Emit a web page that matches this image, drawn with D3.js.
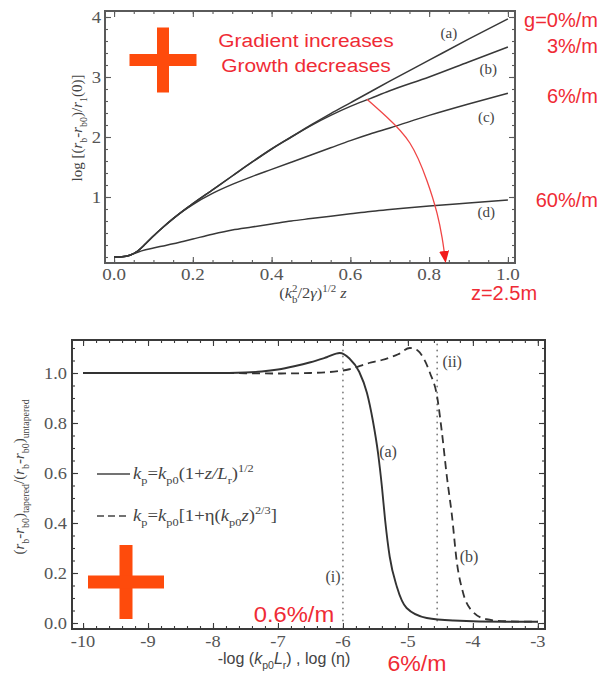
<!DOCTYPE html>
<html>
<head>
<meta charset="utf-8">
<script src="https://cdn.jsdelivr.net/npm/d3@7"></script>
<style>
  body { margin: 0; background: #fff; }
  svg { display: block; }
</style>
</head>
<body>
<svg id="fig" width="602" height="678"></svg>
<script>
// ---------- upper panel: log growth vs normalised distance ----------
const zNorm   = [0, 0.02, 0.04, 0.06, 0.08, 0.1, 0.125, 0.15, 0.175, 0.2, 0.25, 0.3, 0.35, 0.4, 0.45, 0.5, 0.55, 0.6, 0.65, 0.7, 0.8, 0.9, 1.0];
const growthA = [0, 0.005, 0.03, 0.1, 0.22, 0.35, 0.5, 0.64, 0.77, 0.89, 1.12, 1.35, 1.58, 1.8, 2.0, 2.2, 2.39, 2.57, 2.75, 2.93, 3.28, 3.63, 3.97];
const growthB = [0, 0.005, 0.03, 0.1, 0.22, 0.35, 0.5, 0.64, 0.77, 0.89, 1.12, 1.35, 1.58, 1.8, 2.0, 2.19, 2.36, 2.51, 2.64, 2.77, 3.0, 3.25, 3.5];
const growthC = [0, 0.005, 0.03, 0.1, 0.22, 0.35, 0.5, 0.64, 0.765, 0.875, 1.06, 1.21, 1.34, 1.46, 1.58, 1.7, 1.82, 1.94, 2.05, 2.15, 2.36, 2.55, 2.73];
const growthD = [0, 0.005, 0.03, 0.08, 0.12, 0.15, 0.185, 0.22, 0.26, 0.3, 0.38, 0.45, 0.5, 0.55, 0.6, 0.64, 0.68, 0.72, 0.76, 0.79, 0.85, 0.9, 0.95];
const curveTags   = ["(a)", "(b)", "(c)", "(d)"];
const gradientTags = ["g=0%/m", "3%/m", "6%/m", "60%/m"];
const topXTicks = [0, 0.2, 0.4, 0.6, 0.8, 1.0];
const topYTicks = [1, 2, 3, 4];
// trend arrow (data space)
const arrowPts = [[0.642, 2.63], [0.693, 2.33], [0.751, 1.9], [0.794, 1.28], [0.820, 0.73], [0.833, 0.32], [0.838, 0.1]];

// ---------- lower panel: tapered / untapered ratio ----------
const solidX = [-10, -8, -7.5, -7.25, -7, -6.75, -6.5, -6.25, -6.05, -5.9, -5.75, -5.63, -5.54, -5.46, -5.40, -5.35, -5.28, -5.17, -5.02, -4.71, -4.3, -3.5, -3];
const solidY = [1, 1, 1.002, 1.006, 1.014, 1.027, 1.043, 1.063, 1.08, 1.058, 1.005, 0.92, 0.81, 0.68, 0.545, 0.41, 0.265, 0.145, 0.06, 0.02, 0.01, 0.005, 0.005];
const dashX  = [-10, -8, -7, -6.5, -6, -5.9, -5.6, -5.4, -5.15, -4.97, -4.85, -4.75, -4.66, -4.55, -4.48, -4.40, -4.32, -4.25, -4.15, -4.0, -3.79, -3.5, -3];
const dashY  = [1, 1, 0.998, 1.0, 1.01, 1.015, 1.04, 1.052, 1.075, 1.1, 1.09, 1.055, 1.0, 0.905, 0.77, 0.585, 0.425, 0.25, 0.12, 0.045, 0.015, 0.007, 0.005];
const markerX = [-6, -4.55];
const markerTags = ["(i)", "(ii)"];
const botXTicks = [-10, -9, -8, -7, -6, -5, -4, -3];
const botYTicks = [0, 0.2, 0.4, 0.6, 0.8, 1.0];

const RED = "#ef2b35";
const CROSS = "#fe4b0c";
const INK = "#3a3a3a";
const SERIF = "'Times New Roman', 'Liberation Serif', 'DejaVu Serif', serif";
const SANS = "'Liberation Sans', Arial, sans-serif";

const svg = d3.select("#fig");

// text with italic / sub / superscript runs
function rich(sel, parts, size) {
  let shift = 0;
  parts.forEach(p => {
    const [t, o] = typeof p === "string" ? [p, {}] : p;
    const ts = sel.append("tspan").text(t);
    let target = 0;
    if (o.sub) target = size * 0.32;
    if (o.sup) target = -size * 0.42;
    if (target - shift !== 0) ts.attr("dy", target - shift);
    shift = target;
    if (o.sub || o.sup) ts.attr("font-size", size * 0.66);
    if (o.i) ts.attr("font-style", "italic");
    if (o.dx) ts.attr("dx", o.dx);
  });
}
const I = t => [t, { i: true }];
const SUB = t => [t, { sub: true }];
const SUP = t => [t, { sup: true }];

function label(g, x, y, str, opt) {
  return g.append("text")
    .attr("transform", `translate(${x},${y}) scale(${opt.sx || 1},1)`)
    .attr("font-family", opt.family || SERIF)
    .attr("font-size", opt.size)
    .attr("fill", opt.fill || INK)
    .attr("text-anchor", opt.anchor || "middle")
    .text(str);
}

// inward ticks on all four sides of a frame
function frameTicks(g, x, y, xMaj, xMin, yMaj, yMin, colour) {
  const [xl, xr] = x.range(), [yb, yt] = y.range();
  const add = (axis, tr) => g.append("g").attr("transform", tr).call(axis)
    .call(a => a.select(".domain").remove())
    .call(a => a.selectAll("line").attr("stroke", colour).attr("stroke-width", 1.1));
  add(d3.axisBottom(x).tickValues(xMin).tickSize(-3).tickFormat(""), `translate(0,${yb})`);
  add(d3.axisBottom(x).tickValues(xMaj).tickSize(-6).tickFormat(""), `translate(0,${yb})`);
  add(d3.axisTop(x).tickValues(xMin).tickSize(-3).tickFormat(""), `translate(0,${yt})`);
  add(d3.axisTop(x).tickValues(xMaj).tickSize(-6).tickFormat(""), `translate(0,${yt})`);
  add(d3.axisLeft(y).tickValues(yMin).tickSize(-3).tickFormat(""), `translate(${xl},0)`);
  add(d3.axisLeft(y).tickValues(yMaj).tickSize(-6).tickFormat(""), `translate(${xl},0)`);
  add(d3.axisRight(y).tickValues(yMin).tickSize(-3).tickFormat(""), `translate(${xr},0)`);
  add(d3.axisRight(y).tickValues(yMaj).tickSize(-6).tickFormat(""), `translate(${xr},0)`);
  g.append("rect").attr("x", xl).attr("y", yt).attr("width", xr - xl).attr("height", yb - yt)
    .attr("fill", "none").attr("stroke", colour).attr("stroke-width", 2);
}

function cross(g, cx, cy, armW, armH, thick) {
  g.append("rect").attr("x", cx - thick / 2).attr("y", cy - armH / 2).attr("width", thick).attr("height", armH).attr("fill", CROSS);
  g.append("rect").attr("x", cx - armW / 2).attr("y", cy - thick / 2).attr("width", armW).attr("height", thick).attr("fill", CROSS);
}

const steps = (a, b, s) => d3.range(Math.round(a / s), Math.round(b / s) + 1).map(k => +(k * s).toFixed(4));

// ================= upper panel =================
{
  const g = svg.append("g");
  const x = d3.scaleLinear().domain([-0.023, 1.018]).range([105, 515]);
  const y = d3.scaleLinear().domain([-0.1, 4.1]).range([263, 11]);

  frameTicks(g, x, y, topXTicks, steps(0, 1, 0.05), topYTicks, steps(0, 4, 0.2), "#5a5a5a");

  topXTicks.forEach(v => label(g, x(v), 280, v.toFixed(1), { size: 17, sx: 1.12, fill: "#555" }));
  topYTicks.forEach(v => label(g, 101, y(v) + 6, String(v), { size: 17, sx: 1.1, anchor: "end", fill: "#555" }));

  const line = d3.line().x((d, i) => x(zNorm[i])).y(d => y(d)).curve(d3.curveMonotoneX);
  [growthD, growthC, growthB, growthA].forEach(s =>
    g.append("path").attr("d", line(s)).attr("fill", "none").attr("stroke", "#383838").attr("stroke-width", 1.5));

  // curve tags
  const tagPos = [[0.85, 3.65], [0.95, 3.05], [0.945, 2.25], [0.945, 0.67]];
  curveTags.forEach((t, i) => label(g, x(tagPos[i][0]), y(tagPos[i][1]), t, { size: 15, fill: "#444" }));

  // gradient annotations beside each curve end
  const tagY = [27, 53, 103, 207];
  gradientTags.forEach((t, i) => label(g, 598, tagY[i], t, { family: SANS, size: 20, anchor: "end", fill: RED }));
  label(g, x(0.99), 300, "z=2.5m", { family: SANS, size: 20, fill: RED });

  label(g, 306, 47, "Gradient increases", { family: SANS, size: 19, sx: 1.1, fill: RED });
  label(g, 306, 72, "Growth decreases", { family: SANS, size: 19, sx: 1.1, fill: RED });

  // trend arrow
  const defs = svg.append("defs");
  defs.append("marker").attr("id", "head").attr("viewBox", "0 -5 12 10")
    .attr("refX", 0).attr("refY", 0).attr("markerWidth", 12).attr("markerHeight", 10)
    .attr("markerUnits", "userSpaceOnUse").attr("orient", "auto")
    .append("path").attr("d", "M0,-5L12,0L0,5Z").attr("fill", "#f21a1a");
  g.append("path")
    .attr("d", d3.line().x(d => x(d[0])).y(d => y(d[1])).curve(d3.curveNatural)(arrowPts))
    .attr("fill", "none").attr("stroke", "#f04545").attr("stroke-width", 1.3)
    .attr("marker-end", "url(#head)");

  cross(g, 163, 60, 67, 65, 12);

  // axis titles
  const yt = g.append("text").attr("transform", "translate(82,128) rotate(-90)")
    .attr("text-anchor", "middle").attr("font-family", SERIF).attr("font-size", 15).attr("fill", "#444");
  rich(yt, ["log [(", I("r"), SUB("b"), "-", I("r"), SUB("b0"), ")/", I("r"), SUB("1"), "(0)]"], 15);

  const xt = g.append("text").attr("transform", "translate(313,298) scale(1.1,1)")
    .attr("text-anchor", "middle").attr("font-family", SERIF).attr("font-size", 15).attr("fill", "#444");
  rich(xt, ["(", I("k"), SUB("b"), ["2", { sup: true, dx: -5 }], "/2", I("γ"), ")", SUP("1/2"), " ", I("z")], 15);
}

// ================= lower panel =================
{
  const g = svg.append("g");
  const x = d3.scaleLinear().domain([-10.17, -2.89]).range([72, 545]);
  const y = d3.scaleLinear().domain([-0.024, 1.132]).range([629, 340]);

  frameTicks(g, x, y, botXTicks, steps(-10, -3, 0.2), botYTicks, steps(0, 1.1, 0.05), "#3a3a3a");

  botXTicks.forEach(v => label(g, x(v), 647, String(v), { size: 16, sx: 1.15, fill: "#555" }));
  botYTicks.forEach(v => label(g, 67, y(v) + 5.5, v.toFixed(1), { size: 16, sx: 1.15, anchor: "end", fill: "#555" }));

  // reference markers
  markerX.forEach(v => g.append("line").attr("x1", x(v)).attr("x2", x(v)).attr("y1", y(1.115)).attr("y2", y(0))
    .attr("stroke", "#777").attr("stroke-width", 1.6).attr("stroke-linecap", "round").attr("stroke-dasharray", "0.5,5.5"));
  label(g, x(-6) - 10, 582, markerTags[0], { size: 16, fill: "#444" });
  label(g, x(-4.55) + 15, 367, markerTags[1], { size: 16, fill: "#444" });

  const lineOf = (xs) => d3.line().x((d, i) => x(xs[i])).y(d => y(d)).curve(d3.curveMonotoneX);
  g.append("path").attr("d", lineOf(dashX)(dashY)).attr("fill", "none").attr("stroke", "#333")
    .attr("stroke-width", 1.8).attr("stroke-dasharray", "8,5");
  g.append("path").attr("d", lineOf(solidX)(solidY)).attr("fill", "none").attr("stroke", "#333").attr("stroke-width", 1.9);

  label(g, 388, 457, "(a)", { size: 16, fill: "#444" });
  label(g, 469, 562, "(b)", { size: 16, fill: "#444" });

  // legend
  g.append("line").attr("x1", 97).attr("x2", 130).attr("y1", 474).attr("y2", 474).attr("stroke", "#444").attr("stroke-width", 1.3);
  g.append("line").attr("x1", 97).attr("x2", 130).attr("y1", 516).attr("y2", 516).attr("stroke", "#444").attr("stroke-width", 1.3).attr("stroke-dasharray", "7,4");
  const l1 = g.append("text").attr("transform", "translate(133,479) scale(1.1,1)").attr("font-family", SERIF).attr("font-size", 17).attr("fill", "#444");
  rich(l1, [I("k"), SUB("p"), "=", I("k"), SUB("p0"), "(1+", I("z/L"), SUB("r"), ")", SUP("1/2")], 17);
  const l2 = g.append("text").attr("transform", "translate(133,521) scale(1.1,1)").attr("font-family", SERIF).attr("font-size", 17).attr("fill", "#444");
  rich(l2, [I("k"), SUB("p"), "=", I("k"), SUB("p0"), "[1+η(", I("k"), SUB("p0"), I("z"), ")", SUP("2/3"), "]"], 17);

  cross(g, 126, 582, 76, 74, 13);

  label(g, 294, 622, "0.6%/m", { family: SANS, size: 22, sx: 1.08, fill: RED });
  label(g, 417, 671, "6%/m", { family: SANS, size: 22, sx: 1.05, fill: RED });

  const yt = g.append("text").attr("transform", "translate(24,477) rotate(-90)")
    .attr("text-anchor", "middle").attr("font-family", SERIF).attr("font-size", 15).attr("fill", "#444");
  rich(yt, ["(", I("r"), SUB("b"), "-", I("r"), SUB("b0"), ")", SUB("tapered"), "/(", I("r"), SUB("b"), "-", I("r"), SUB("b0"), ")", SUB("untapered")], 15);

  const xt = g.append("text").attr("transform", "translate(284,664)")
    .attr("text-anchor", "middle").attr("font-family", SANS).attr("font-size", 16).attr("fill", "#444");
  rich(xt, ["-log (", I("k"), SUB("p0"), I("L"), SUB("r"), ") , log (η)"], 16);
}
</script>
</body>
</html>
